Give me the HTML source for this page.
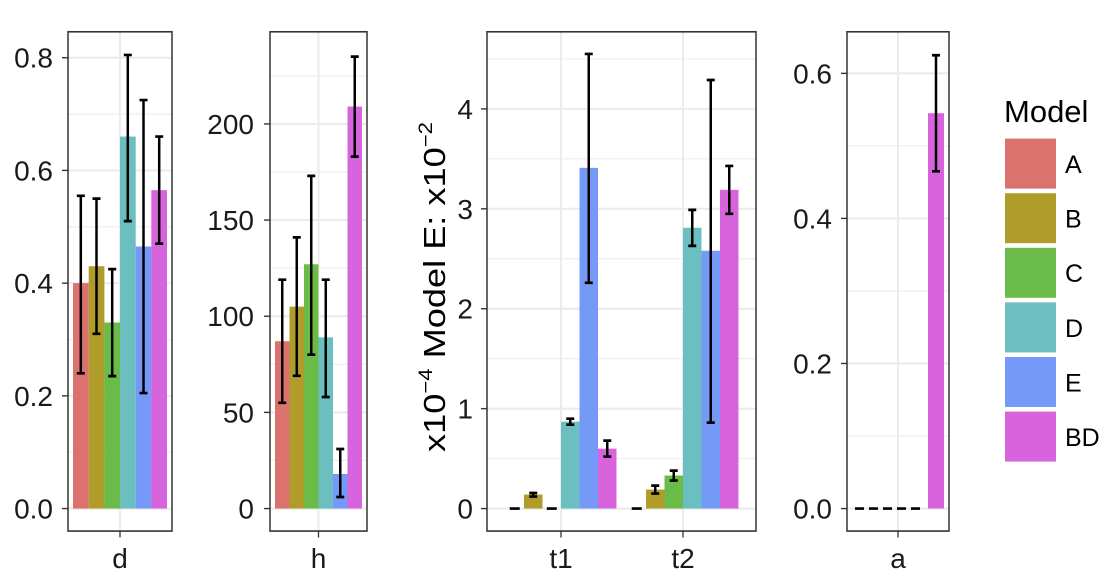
<!DOCTYPE html>
<html><head><meta charset="utf-8"><style>
html,body{margin:0;padding:0;background:#fff;}
svg{display:block;font-family:"Liberation Sans",Arial,sans-serif;}
</style></head><body>
<svg width="1111" height="587" viewBox="0 0 1111 587" xmlns="http://www.w3.org/2000/svg">
<rect width="1111" height="587" fill="#fff"/>
<g transform="matrix(1,0,0,1.0714,0,-1.428)">
<!-- Panel 1 -->
<g stroke="#ebebeb" stroke-width="1">
<line x1="68" x2="172" y1="423.4" y2="423.4"/><line x1="68" x2="172" y1="318.2" y2="318.2"/><line x1="68" x2="172" y1="213" y2="213"/><line x1="68" x2="172" y1="107.8" y2="107.8"/>
</g>
<g stroke="#ebebeb" stroke-width="2">
<line x1="68" x2="172" y1="476" y2="476"/><line x1="68" x2="172" y1="370.8" y2="370.8"/><line x1="68" x2="172" y1="265.6" y2="265.6"/><line x1="68" x2="172" y1="160.4" y2="160.4"/><line x1="68" x2="172" y1="55.2" y2="55.2"/>
<line x1="120" x2="120" y1="31" y2="497"/>
</g>
<rect x="73" y="265.6" width="15.7" height="210.4" fill="#db726d"/>
<rect x="88.7" y="249.8" width="15.7" height="226.2" fill="#b09c2b"/>
<rect x="104.3" y="302.4" width="15.7" height="173.6" fill="#6bbb48"/>
<rect x="120" y="128.8" width="15.7" height="347.2" fill="#6bbfc0"/>
<rect x="135.7" y="231.4" width="15.7" height="244.6" fill="#7599f7"/>
<rect x="151.3" y="178.8" width="15.7" height="297.2" fill="#d764dc"/>
<g stroke="#000" stroke-width="2.5" fill="none">
<path d="M80.8 349.8V184.1M76.8 349.8h8M76.8 184.1h8"/>
<path d="M96.5 312.9V186.7M92.5 312.9h8M92.5 186.7h8"/>
<path d="M112.2 352.4V252.5M108.2 352.4h8M108.2 252.5h8"/>
<path d="M127.8 207.7V52.6M123.8 207.7h8M123.8 52.6h8"/>
<path d="M143.5 368.2V94.7M139.5 368.2h8M139.5 94.7h8"/>
<path d="M159.2 228.8V128.8M155.2 228.8h8M155.2 128.8h8"/>
</g>
<rect x="68" y="31" width="104" height="466" fill="none" stroke="#333" stroke-width="1.5"/>
<g stroke="#333" stroke-width="1.3"><line x1="62" x2="68" y1="476" y2="476"/><line x1="62" x2="68" y1="370.8" y2="370.8"/><line x1="62" x2="68" y1="265.6" y2="265.6"/><line x1="62" x2="68" y1="160.4" y2="160.4"/><line x1="62" x2="68" y1="55.2" y2="55.2"/><line x1="120" x2="120" y1="497" y2="503"/></g>

<!-- Panel 2 -->
<g stroke="#ebebeb" stroke-width="1">
<line x1="270" x2="367" y1="431.1" y2="431.1"/><line x1="270" x2="367" y1="341.4" y2="341.4"/><line x1="270" x2="367" y1="251.6" y2="251.6"/><line x1="270" x2="367" y1="161.9" y2="161.9"/><line x1="270" x2="367" y1="72.1" y2="72.1"/>
</g>
<g stroke="#ebebeb" stroke-width="2">
<line x1="270" x2="367" y1="476" y2="476"/><line x1="270" x2="367" y1="386.25" y2="386.25"/><line x1="270" x2="367" y1="296.5" y2="296.5"/><line x1="270" x2="367" y1="206.75" y2="206.75"/><line x1="270" x2="367" y1="117" y2="117"/>
<line x1="318.5" x2="318.5" y1="31" y2="497"/>
</g>
<rect x="275" y="319.8" width="14.5" height="156.2" fill="#db726d"/>
<rect x="289.5" y="287.5" width="14.5" height="188.5" fill="#b09c2b"/>
<rect x="304" y="248" width="14.5" height="228" fill="#6bbb48"/>
<rect x="318.5" y="316.2" width="14.5" height="159.8" fill="#6bbfc0"/>
<rect x="333" y="443.7" width="14.5" height="32.3" fill="#7599f7"/>
<rect x="347.5" y="100.8" width="14.5" height="375.2" fill="#d764dc"/>
<g stroke="#000" stroke-width="2.5" fill="none">
<path d="M282.25 377.3V262.4M278.25 377.3h8M278.25 262.4h8"/>
<path d="M296.75 352.1V222.9M292.75 352.1h8M292.75 222.9h8"/>
<path d="M311.25 332.4V165.5M307.25 332.4h8M307.25 165.5h8"/>
<path d="M325.75 371.9V262.4M321.75 371.9h8M321.75 262.4h8"/>
<path d="M340.25 465.2V420.4M336.25 465.2h8M336.25 420.4h8"/>
<path d="M354.75 147.5V54.2M350.75 147.5h8M350.75 54.2h8"/>
</g>
<rect x="270" y="31" width="97" height="466" fill="none" stroke="#333" stroke-width="1.5"/>
<g stroke="#333" stroke-width="1.3"><line x1="264" x2="270" y1="476" y2="476"/><line x1="264" x2="270" y1="386.25" y2="386.25"/><line x1="264" x2="270" y1="296.5" y2="296.5"/><line x1="264" x2="270" y1="206.75" y2="206.75"/><line x1="264" x2="270" y1="117" y2="117"/><line x1="318.5" x2="318.5" y1="497" y2="503"/></g>

<!-- Panel 3 -->
<g stroke="#ebebeb" stroke-width="1">
<line x1="487" x2="756" y1="429.4" y2="429.4"/><line x1="487" x2="756" y1="336.1" y2="336.1"/><line x1="487" x2="756" y1="242.9" y2="242.9"/><line x1="487" x2="756" y1="149.6" y2="149.6"/><line x1="487" x2="756" y1="56.4" y2="56.4"/>
</g>
<g stroke="#ebebeb" stroke-width="2">
<line x1="487" x2="756" y1="476" y2="476"/><line x1="487" x2="756" y1="382.75" y2="382.75"/><line x1="487" x2="756" y1="289.5" y2="289.5"/><line x1="487" x2="756" y1="196.25" y2="196.25"/><line x1="487" x2="756" y1="103" y2="103"/>
<line x1="561" x2="561" y1="31" y2="497"/><line x1="683" x2="683" y1="31" y2="497"/>
</g>
<rect x="524" y="462.9" width="18.5" height="13.1" fill="#b09c2b"/>
<rect x="561" y="394.9" width="18.5" height="81.1" fill="#6bbfc0"/>
<rect x="579.5" y="158" width="18.5" height="318" fill="#7599f7"/>
<rect x="598" y="420.1" width="18.5" height="55.9" fill="#d764dc"/>
<rect x="646" y="458.3" width="18.5" height="17.7" fill="#b09c2b"/>
<rect x="664.5" y="445.2" width="18.5" height="30.8" fill="#6bbb48"/>
<rect x="683" y="213.9" width="18.5" height="262.1" fill="#6bbfc0"/>
<rect x="701.5" y="235.4" width="18.5" height="240.6" fill="#7599f7"/>
<rect x="720" y="178.5" width="18.5" height="297.5" fill="#d764dc"/>
<g stroke="#000" stroke-width="2.5" fill="none">
<path d="M509.75 476h10M546.75 476h10M631.75 476h10"/>
<path d="M533.25 464.8V461.5M529.25 464.8h8M529.25 461.5h8"/>
<path d="M570.25 397.7V392.1M566.25 397.7h8M566.25 392.1h8"/>
<path d="M588.75 265.3V51.7M584.75 265.3h8M584.75 51.7h8"/>
<path d="M607.25 427.5V412.6M603.25 427.5h8M603.25 412.6h8"/>
<path d="M655.25 462V454.6M651.25 462h8M651.25 454.6h8"/>
<path d="M673.75 449.9V440.6M669.75 449.9h8M669.75 440.6h8"/>
<path d="M692.25 230.8V197.2M688.25 230.8h8M688.25 197.2h8"/>
<path d="M710.75 395.8V76M706.75 395.8h8M706.75 76h8"/>
<path d="M729.25 200.9V156.2M725.25 200.9h8M725.25 156.2h8"/>
</g>
<rect x="487" y="31" width="269" height="466" fill="none" stroke="#333" stroke-width="1.5"/>
<g stroke="#333" stroke-width="1.3"><line x1="481" x2="487" y1="476" y2="476"/><line x1="481" x2="487" y1="382.75" y2="382.75"/><line x1="481" x2="487" y1="289.5" y2="289.5"/><line x1="481" x2="487" y1="196.25" y2="196.25"/><line x1="481" x2="487" y1="103" y2="103"/><line x1="561" x2="561" y1="497" y2="503"/><line x1="683" x2="683" y1="497" y2="503"/></g>

<!-- Panel 4 -->
<g stroke="#ebebeb" stroke-width="1">
<line x1="847" x2="949" y1="408.3" y2="408.3"/><line x1="847" x2="949" y1="272.9" y2="272.9"/><line x1="847" x2="949" y1="137.5" y2="137.5"/>
</g>
<g stroke="#ebebeb" stroke-width="2">
<line x1="847" x2="949" y1="476" y2="476"/><line x1="847" x2="949" y1="340.6" y2="340.6"/><line x1="847" x2="949" y1="205.2" y2="205.2"/><line x1="847" x2="949" y1="69.8" y2="69.8"/>
<line x1="898" x2="898" y1="31" y2="497"/>
</g>
<rect x="928" y="107" width="16" height="369" fill="#d764dc"/>
<g stroke="#000" stroke-width="2.5" fill="none">
<path d="M855 476h70" stroke-dasharray="9,5"/>
<path d="M936 161.2V52.9M932 161.2h8M932 52.9h8"/>
</g>
<rect x="847" y="31" width="102" height="466" fill="none" stroke="#333" stroke-width="1.5"/>
<g stroke="#333" stroke-width="1.3"><line x1="841" x2="847" y1="476" y2="476"/><line x1="841" x2="847" y1="340.6" y2="340.6"/><line x1="841" x2="847" y1="205.2" y2="205.2"/><line x1="841" x2="847" y1="69.8" y2="69.8"/><line x1="898" x2="898" y1="497" y2="503"/></g>
</g>

<!-- Text -->
<g font-size="28" fill="#1a1a1a" text-anchor="end">
<text x="53" y="518.6">0.0</text><text x="53" y="405.9">0.2</text><text x="53" y="293.1">0.4</text><text x="53" y="180.4">0.6</text><text x="53" y="67.7">0.8</text>
<text x="254" y="518.6">0</text><text x="254" y="422.4">50</text><text x="254" y="326.2">100</text><text x="254" y="230.1">150</text><text x="254" y="133.9">200</text>
<text x="473" y="518.6">0</text><text x="473" y="418.6">1</text><text x="473" y="318.7">2</text><text x="473" y="218.8">3</text><text x="473" y="118.9">4</text>
<text x="832" y="518.6">0.0</text><text x="832" y="373.5">0.2</text><text x="832" y="228.4">0.4</text><text x="832" y="83.4">0.6</text>
</g>
<g font-size="28" fill="#1a1a1a" text-anchor="middle">
<text x="120" y="568">d</text><text x="318.5" y="568">h</text><text x="561" y="568">t1</text><text x="683" y="568">t2</text><text x="898" y="568">a</text>
</g>
<text transform="translate(445,287) rotate(-90)" font-size="31" text-anchor="middle" fill="#000" textLength="330" lengthAdjust="spacingAndGlyphs">x10<tspan font-size="19" dy="-13">−4</tspan><tspan dy="13">  Model E: x10</tspan><tspan font-size="19" dy="-13">−2</tspan></text>

<!-- Legend -->
<text x="1004" y="122" font-size="31" fill="#000">Model</text>
<rect x="1005" y="138.6" width="51" height="50" fill="#db726d"/>
<rect x="1005" y="193.2" width="51" height="50" fill="#b09c2b"/>
<rect x="1005" y="247.8" width="51" height="50" fill="#6bbb48"/>
<rect x="1005" y="302.4" width="51" height="50" fill="#6bbfc0"/>
<rect x="1005" y="357" width="51" height="50" fill="#7599f7"/>
<rect x="1005" y="411.6" width="51" height="50" fill="#d764dc"/>
<g font-size="25" fill="#000">
<text x="1065" y="173">A</text><text x="1065" y="227.6">B</text><text x="1065" y="282.2">C</text><text x="1065" y="336.8">D</text><text x="1065" y="391.4">E</text><text x="1065" y="446">BD</text>
</g>
</svg>
</body></html>
